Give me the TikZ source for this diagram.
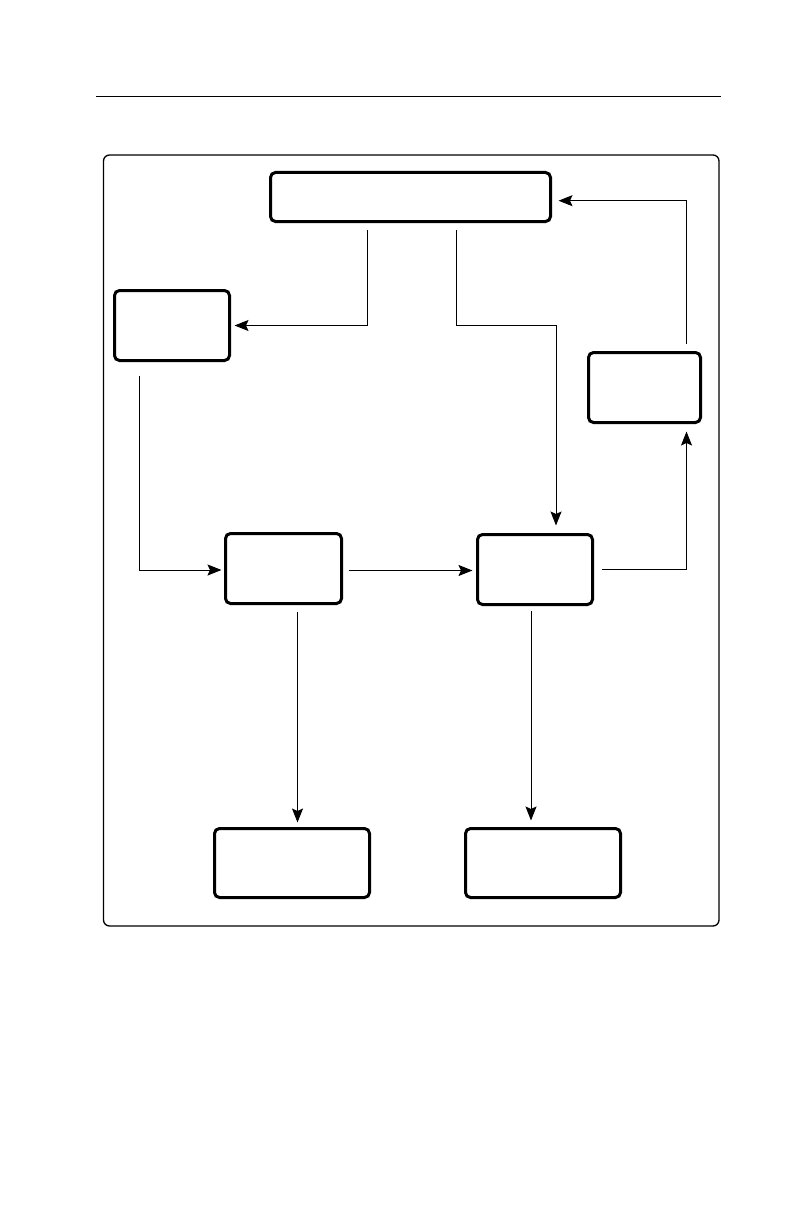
\documentclass[tikz,border=0pt]{standalone}
\usetikzlibrary{arrows.meta}
\begin{document}
\begin{tikzpicture}[x=1pt,y=-1pt,
  box/.style={draw,line width=3pt,rounded corners=5pt,inner sep=0pt,outer sep=0pt},
  arr/.style={line width=1pt,-{Stealth[length=14pt,width=11pt,inset=2.5pt]}},
  lin/.style={line width=1pt}]
\useasboundingbox (0,0) rectangle (793,1225);
% page rule and frame
\draw[line width=1.8pt] (96,96.5) -- (721,96.5);
\draw[line width=1.3pt,rounded corners=6pt] (103.5,155) rectangle (719,926);
% boxes
\node[box,minimum width=280pt,minimum height=49pt] (T) at (410.5,197) {};
\node[box,minimum width=115pt,minimum height=70pt] (L) at (172,325.5) {};
\node[box,minimum width=112pt,minimum height=70pt] (R) at (644.5,387.5) {};
\node[box,minimum width=116pt,minimum height=70pt] (B) at (283.5,568.5) {};
\node[box,minimum width=115pt,minimum height=70pt] (C) at (535,569.5) {};
\node[box,minimum width=155pt,minimum height=69pt] (D) at (292,863) {};
\node[box,minimum width=155pt,minimum height=69pt] (E) at (543,863) {};
% helper coordinates
\coordinate (ts1) at ([xshift=-43.5pt]T.south);
\coordinate (ts2) at ([xshift=45.5pt]T.south);
\coordinate (cn) at ([xshift=21pt]C.north);
\coordinate (rs) at ([xshift=42pt]R.south);
\coordinate (rn) at ([xshift=41.5pt]R.north);
\coordinate (te) at ([yshift=-3.7pt]T.east);
\coordinate (ls) at ([xshift=-32.5pt]L.south);
\coordinate (bw) at ([yshift=-1.5pt]B.west);
\coordinate (be) at ([yshift=-2pt]B.east);
\coordinate (bs) at ([xshift=14pt]B.south);
\coordinate (cs) at ([xshift=-4pt]C.south);
% connectors
\draw[arr,shorten <=8pt,shorten >=5pt] (ts1) |- (L.east);
\draw[arr,shorten <=8pt,shorten >=9pt] (ts2) |- (cn |- L.east) -- (cn);
\draw[arr,shorten <=9pt,shorten >=9pt] (C.east) -| (rs);
\draw[arr,shorten <=9pt,shorten >=8pt] (rn) |- (te);
\draw[arr,shorten <=15pt,shorten >=4pt] (ls) |- (bw);
\draw[arr,line width=1.6pt,shorten <=7pt,shorten >=5pt] (be) -- (be -| C.west);
\draw[arr,shorten <=8pt,shorten >=6pt] (bs) -- (bs |- D.north);
\draw[arr,shorten <=6pt,shorten >=8pt] (cs) -- (cs |- E.north);
\end{tikzpicture}
\end{document}
